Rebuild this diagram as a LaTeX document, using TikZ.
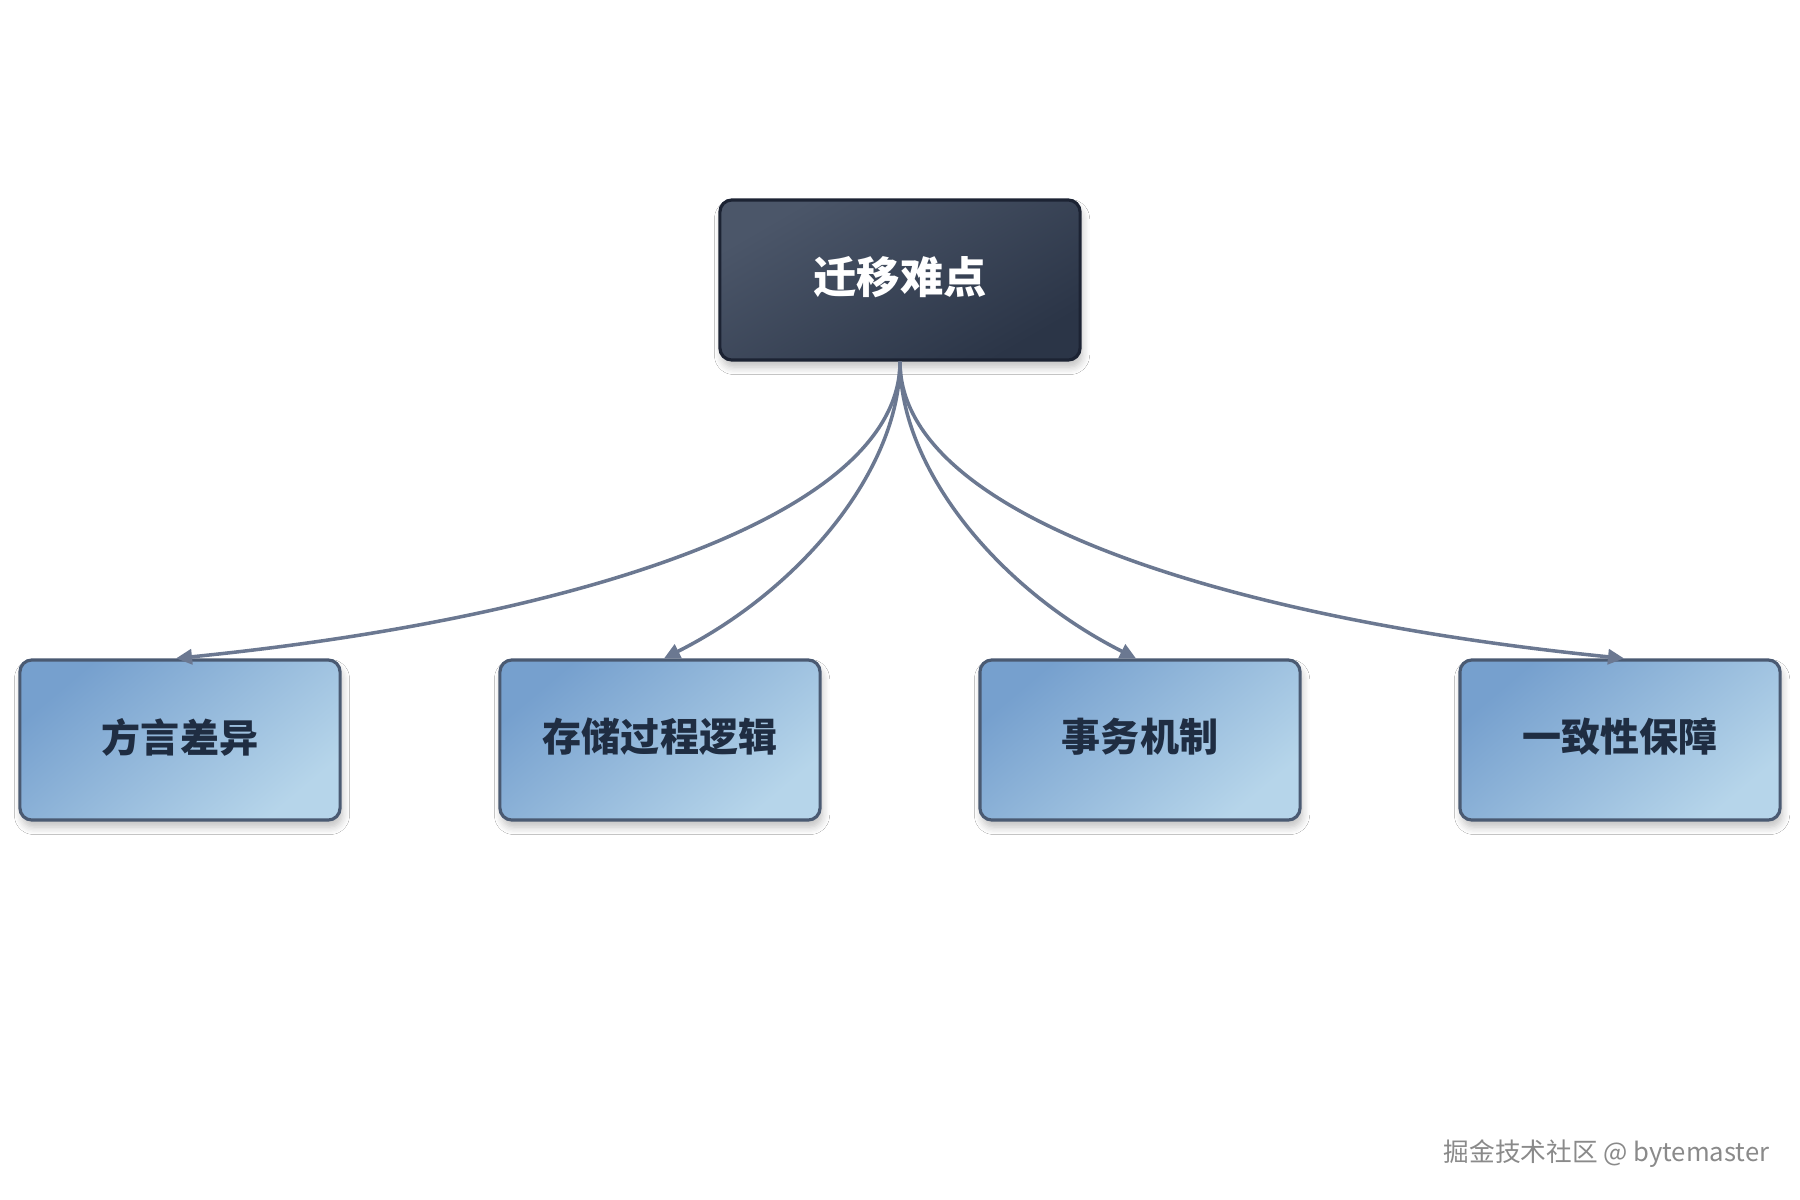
\documentclass[tikz,border=0pt]{standalone}
\usepackage{fontspec}
\setmainfont{Noto Sans CJK SC}
\usetikzlibrary{arrows.meta,shadows.blur,calc}
\definecolor{edgecol}{HTML}{6B7891}
\definecolor{topA}{HTML}{4B5669}
\definecolor{topB}{HTML}{2B3547}
\definecolor{topBorder}{HTML}{1C2333}
\definecolor{boxA}{HTML}{76A0CE}
\definecolor{boxB}{HTML}{B6D5EA}
\definecolor{boxBorder}{HTML}{4A5A72}
\definecolor{boxText}{HTML}{1F2D42}
\definecolor{wmark}{HTML}{8A8A8A}
\newcommand{\up}[1]{\raisebox{0.1cm}{#1}}
\tikzset{
  rootbox/.style={draw=topBorder, line width=0.9pt, rounded corners=0.12cm,
    top color=topA, bottom color=topB, shading angle=30,
    minimum width=3.6cm, minimum height=1.6cm, inner sep=0pt,
    text=white, font=\fontsize{12.3pt}{14pt}\selectfont\bfseries,
    blur shadow={shadow xshift=0.02cm, shadow yshift=-0.07cm, shadow opacity=25, shadow blur steps=6}},
  leafbox/.style={draw=boxBorder, line width=0.9pt, rounded corners=0.12cm,
    top color=boxA, bottom color=boxB, shading angle=40,
    minimum width=3.2cm, minimum height=1.6cm, inner sep=0pt,
    text=boxText, font=\fontsize{11.1pt}{13pt}\selectfont\bfseries,
    blur shadow={shadow xshift=0.02cm, shadow yshift=-0.07cm, shadow opacity=25, shadow blur steps=6}},
  link/.style={draw=edgecol, line width=1pt, -{Triangle[length=0.16cm,width=0.15cm]}}
}
\begin{document}
\begin{tikzpicture}[x=0.01cm,y=-0.01cm]
\useasboundingbox (0,0) rectangle (1800,1200);
\fill[white] (0,0) rectangle (1800,1200);

\node[rootbox] (root) at (900,280) {\up{迁移难点}};
\node[leafbox] (b1) at (180,740) {\up{方言差异}};
\node[leafbox] (b2) at (660,740) {\up{存储过程逻辑}};
\node[leafbox] (b3) at (1140,740) {\up{事务机制}};
\node[leafbox] (b4) at (1620,740) {\up{一致性保障}};

\draw[link] (root.south) .. controls (900,520) and (560,620) .. ([xshift=-0.04cm]b1.north);
\draw[link] (root.south) .. controls (900,470) and (800,590) .. ([xshift=0.04cm]b2.north);
\draw[link] (root.south) .. controls (900,470) and (1000,590) .. ([xshift=-0.04cm]b3.north);
\draw[link] (root.south) .. controls (900,520) and (1240,620) .. ([xshift=0.04cm]b4.north);

\node[text=white, inner sep=0pt, font=\fontsize{7.3pt}{8pt}\selectfont, anchor=east] (wm0) at (1772,1156) {掘金技术社区 @ bytemaster};
\node[text=wmark, inner sep=0pt, font=\fontsize{7.3pt}{8pt}\selectfont, anchor=east] (wm) at (1770,1154) {掘金技术社区 @ bytemaster};
\end{tikzpicture}
\end{document}
